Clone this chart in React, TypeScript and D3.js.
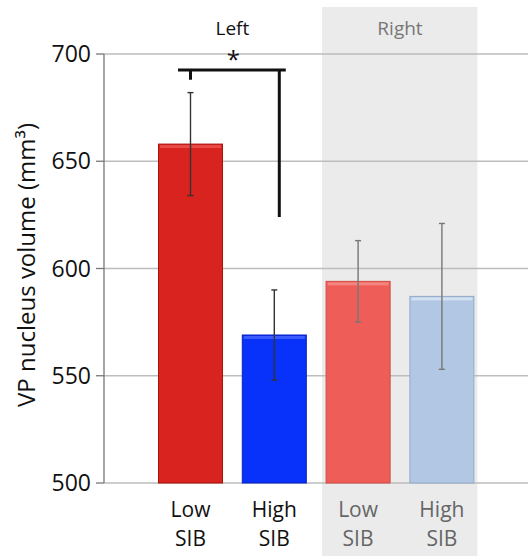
import React from 'react'
import * as d3 from 'd3'

/* chart size is the window size, margin holds the axis and labels */
const width = 528
const height = 556
const margin = { top: 54, right: 0, bottom: 73, left: 104 }

/* data */
const groups = ['Left', 'Left', 'Right', 'Right']
const categories = ['Low SIB L', 'High SIB L', 'Low SIB R', 'High SIB R']
const labelLines = [
    ['Low', 'SIB'],
    ['High', 'SIB'],
    ['Low', 'SIB'],
    ['High', 'SIB'],
]
const means = [658, 569, 594, 587]
const errors = [24, 21, 19, 34]
const yTicks = [500, 550, 600, 650, 700]
const fills = ['#d8231e', '#0831fa', '#ee5d57', '#b1c7e3']
const edges = ['#a8120e', '#0a22c0', '#d24a44', '#93abc9']
const highlights = ['#ea4a45', '#3a5cff', '#f58580', '#d2e1f1']
/* significance bracket: bar value level, left tick end, right arm end */
const bracket = { level: 692.5, leftEnd: 688, rightEnd: 624 }

const font = '"Open Sans", sans-serif'

export default function App() {
    const x = d3
        .scaleBand()
        .domain(categories)
        .range([148.6, 483.8])
        .paddingInner(0.224)
        .paddingOuter(0.112)
    const y = d3
        .scaleLinear()
        .domain([500, 700])
        .range([height - margin.bottom, margin.top])

    const bw = x.bandwidth()
    const cx = (c) => x(c) + bw / 2
    const shadeX0 = x(categories[2]) - 3.5
    const shadeX1 = x(categories[3]) + bw + 3

    return (
        <svg
            width={width}
            height={height}
            style={{ position: 'absolute', left: 0, top: 0 }}
            fontFamily={font}
        >
            <rect width={width} height={height} fill="#fff" />
            {/* shaded right hemisphere area */}
            <rect
                x={shadeX0}
                y={7}
                width={shadeX1 - shadeX0}
                height={height - 7}
                fill="#ebebeb"
            />
            {/* grid lines */}
            {yTicks.map((t) => (
                <line
                    key={t}
                    x1={margin.left}
                    x2={width}
                    y1={y(t)}
                    y2={y(t)}
                    stroke="#bdbdbd"
                    strokeWidth={1.3}
                />
            ))}
            {/* bars */}
            {categories.map((c, i) => (
                <g key={c}>
                    <rect
                        x={x(c) + 0.5}
                        y={y(means[i])}
                        width={bw - 1}
                        height={y(500) - y(means[i])}
                        fill={fills[i]}
                        stroke={edges[i]}
                        strokeWidth={1}
                    />
                    <rect
                        x={x(c) + 2}
                        y={y(means[i]) + 1}
                        width={bw - 4}
                        height={3}
                        fill={highlights[i]}
                    />
                </g>
            ))}
            {/* error bars */}
            {categories.map((c, i) => {
                const col = groups[i] === 'Left' ? '#333' : '#777'
                const top = y(means[i] + errors[i])
                const bot = y(means[i] - errors[i])
                return (
                    <g key={c} stroke={col} strokeWidth={1.4}>
                        <line x1={cx(c)} x2={cx(c)} y1={top} y2={bot} />
                        <line x1={cx(c) - 3} x2={cx(c) + 3} y1={top} y2={top} />
                        <line x1={cx(c) - 3} x2={cx(c) + 3} y1={bot} y2={bot} />
                    </g>
                )
            })}
            {/* y axis */}
            <line
                x1={margin.left}
                x2={margin.left}
                y1={y(700)}
                y2={y(500)}
                stroke="#777"
                strokeWidth={1.3}
            />
            {yTicks.map((t) => (
                <g key={t}>
                    <line
                        x1={margin.left - 8}
                        x2={margin.left}
                        y1={y(t)}
                        y2={y(t)}
                        stroke="#777"
                        strokeWidth={1.3}
                    />
                    <text
                        x={margin.left - 13}
                        y={y(t)}
                        dy="0.35em"
                        textAnchor="end"
                        fontSize={23}
                        fill="#111"
                    >
                        {t}
                    </text>
                </g>
            ))}
            <text
                transform={`translate(35, 265) rotate(-90)`}
                textAnchor="middle"
                fontSize={24}
                fill="#111"
            >
                VP nucleus volume (mm³)
            </text>
            {/* significance bracket */}
            <g stroke="#111" strokeWidth={3} fill="none">
                <line
                    x1={x(categories[0]) + 20}
                    x2={x(categories[1]) + bw - 21}
                    y1={y(bracket.level)}
                    y2={y(bracket.level)}
                />
                <line
                    x1={cx(categories[0])}
                    x2={cx(categories[0])}
                    y1={y(bracket.level)}
                    y2={y(bracket.leftEnd)}
                />
                <line
                    x1={cx(categories[1]) + 5}
                    x2={cx(categories[1]) + 5}
                    y1={y(bracket.level)}
                    y2={y(bracket.rightEnd)}
                />
            </g>
            <text
                x={(cx(categories[0]) + cx(categories[1])) / 2 + 1}
                y={y(bracket.level) - 2}
                textAnchor="middle"
                fontSize={24}
                fill="#111"
            >
                *
            </text>
            {/* group titles */}
            <text
                x={(cx(categories[0]) + cx(categories[1])) / 2}
                y={35}
                textAnchor="middle"
                fontSize={19}
                fill="#111"
            >
                Left
            </text>
            <text
                x={(cx(categories[2]) + cx(categories[3])) / 2}
                y={35}
                textAnchor="middle"
                fontSize={19}
                fill="#777"
            >
                Right
            </text>
            {/* x labels */}
            {categories.map((c, i) => (
                <text
                    key={c}
                    x={cx(c)}
                    textAnchor="middle"
                    fontSize={21}
                    fill={groups[i] === 'Left' ? '#111' : '#666'}
                >
                    <tspan x={cx(c)} y={517}>
                        {labelLines[i][0]}
                    </tspan>
                    <tspan x={cx(c)} y={546}>
                        {labelLines[i][1]}
                    </tspan>
                </text>
            ))}
        </svg>
    )
}
